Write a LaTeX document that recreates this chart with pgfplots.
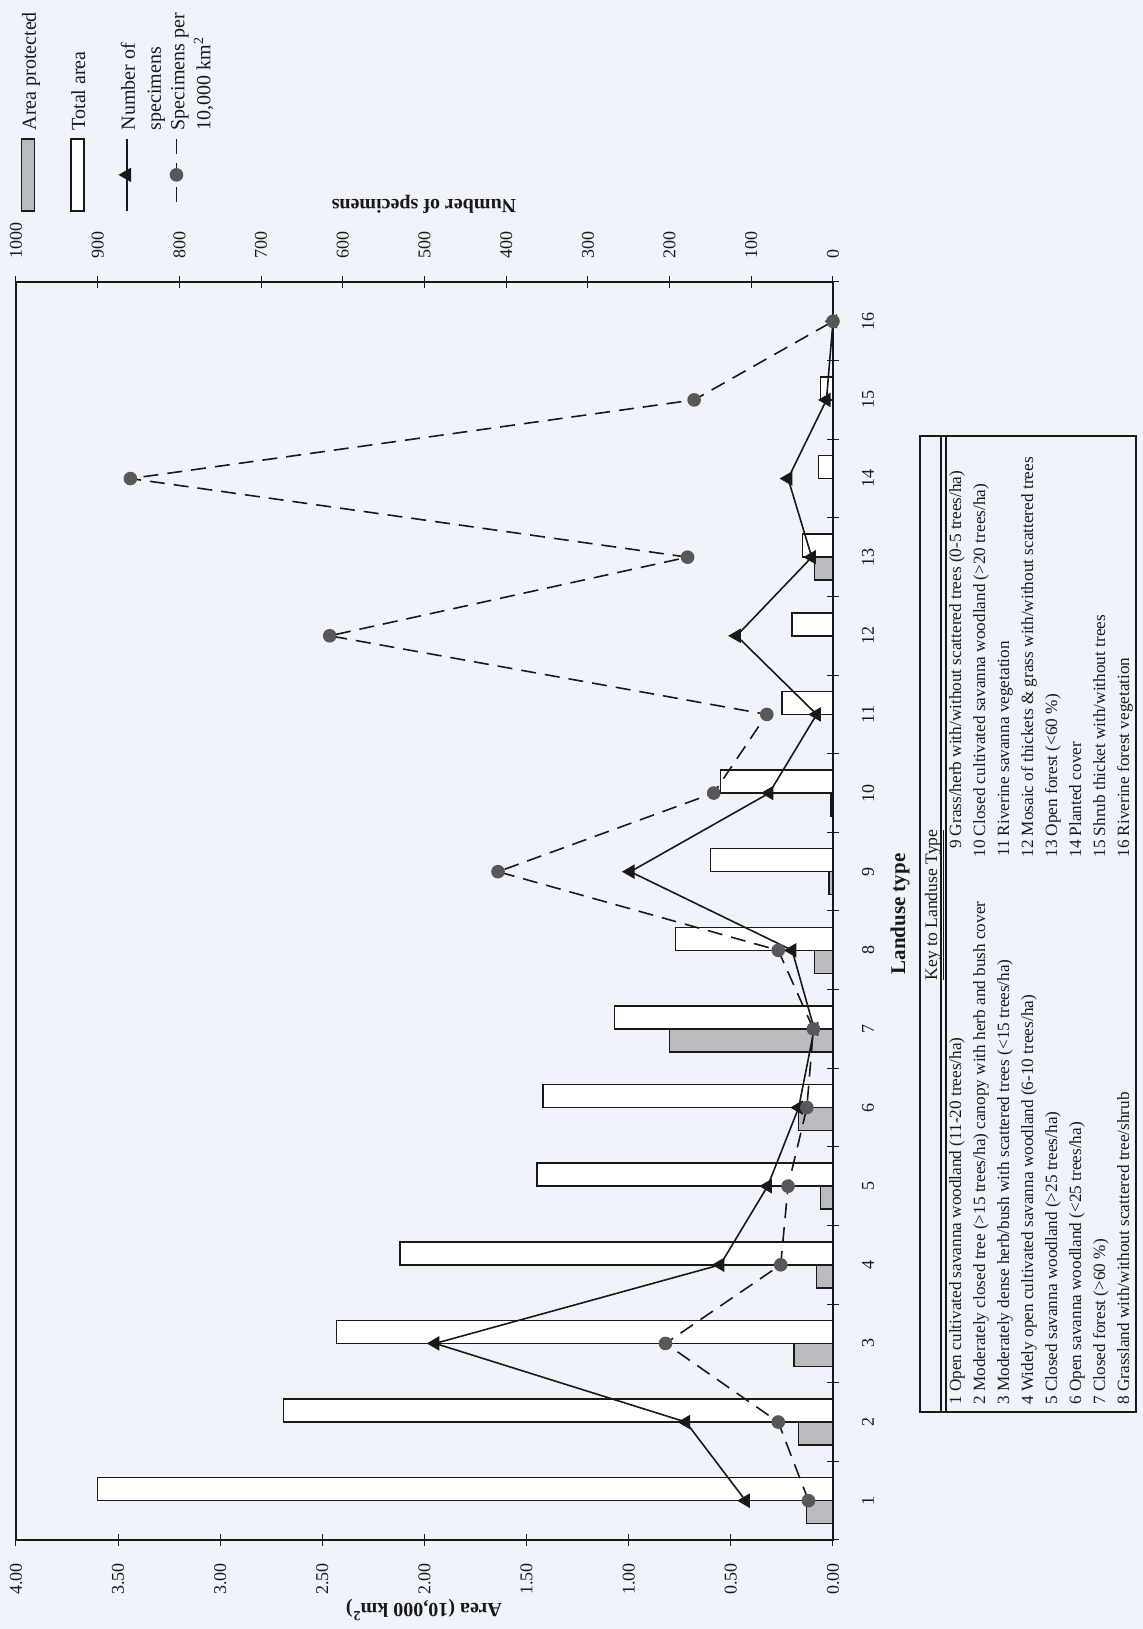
\documentclass[border=0pt]{standalone}
\usepackage{graphicx}
\usepackage{pgfplots}
\pgfplotsset{compat=1.18}
\usepackage{fontspec}
\setmainfont{Liberation Serif}
\definecolor{bg}{RGB}{240,244,250}
\definecolor{barfill}{RGB}{185,187,192}
\definecolor{dotgray}{RGB}{88,88,92}
\definecolor{ink}{RGB}{25,25,28}
\newcommand{\legtext}[1]{\rotatebox{90}{\raisebox{0pt}[7pt][2.4pt]{\parbox[t]{64pt}{\raggedright #1}}}}
\pgfplotsset{
  mybarlegend/.style={legend image code/.code={\path (0pt,0pt); \draw[overlay,##1] (0.2pt,-35.5pt) rectangle (6.7pt,-71.5pt);}},
  mylinelegend/.style={legend image code/.code={\path (0pt,0pt); \draw[overlay,mark repeat=2,mark phase=2,##1] plot coordinates {(3.45pt,-35.5pt) (3.45pt,-53.5pt) (3.45pt,-71.5pt)};}},
  common/.style={
    at={(8pt,44.5pt)}, anchor=south west,
    width=408.5pt, height=629pt, scale only axis,
    x dir=reverse, ymin=0.5, ymax=16.5,
    axis line style={line width=0.6pt, ink},
    tick align=center, major tick length=6pt, minor tick length=6pt,
    every tick/.style={ink, line width=0.5pt},
    /pgf/number format/assume math mode=true,
    tick label style={font=\fontsize{9}{10}\selectfont, text=ink},
  },
}
\begin{document}
\begin{tikzpicture}
\useasboundingbox (0,0) rectangle (571.5pt,814.5pt);
\fill[bg] (0,0) rectangle (571.5pt,814.5pt);
% ---------- area axis (bars) ----------
\begin{axis}[common,
  xmin=0, xmax=4,
  xtick={0,0.5,...,4}, xtick pos=left,
  xticklabel style={rotate=90, anchor=east, /pgf/number format/.cd, fixed, fixed zerofill, precision=2},
  xticklabel shift=5pt,
  ytick={1,...,16}, minor ytick={0.5,1.5,...,16.5},
  major y tick style={draw=none},
  ytick pos=right,
  yticklabel style={rotate=90, anchor=north},
  yticklabel shift=8pt,
]
\addplot[forget plot, xbar, bar width=11.5pt, bar shift=5.75pt, draw=ink, fill=white, line width=0.75pt]
  coordinates {(3.60,1) (2.69,2) (2.43,3) (2.12,4) (1.45,5) (1.42,6) (1.07,7) (0.77,8)
               (0.60,9) (0.55,10) (0.25,11) (0.20,12) (0.15,13) (0.07,14) (0.06,15)};
\addplot[forget plot, xbar, bar width=11.5pt, bar shift=-5.75pt, draw=ink, fill=barfill, line width=0.75pt]
  coordinates {(0.13,1) (0.17,2) (0.19,3) (0.08,4) (0.06,5) (0.17,6) (0.80,7) (0.09,8)
               (0.02,9) (0.01,10) (0.09,13)};
\end{axis}
% ---------- specimens axis (lines) ----------
\begin{axis}[common,
  xmin=0, xmax=1000,
  axis x line*=top, hide y axis,
  xtick={0,100,...,1000},
  xticklabel style={rotate=90, anchor=west, /pgf/number format/1000 sep={}},
  xticklabel shift=5pt,
  legend style={at={(axis description cs:0.0049,1.2226)}, anchor=north west,
    draw=none, fill=none, font=\fontsize{10}{13}\selectfont, text=ink,
    column sep=0pt, inner sep=0pt, nodes={inner sep=0pt},
    /tikz/every even column/.append style={column sep=14.6pt}},
  legend columns=-1, legend cell align=left,
]
\addplot[forget plot, ink, line width=0.8pt, mark=triangle*, mark size=3.4pt, mark options={rotate=90, fill=ink}]
  coordinates {(107,1) (180,2) (487,3) (138,4) (80,5) (42,6) (23,7) (50,8)
               (248,9) (78,10) (20,11) (118,12) (26,13) (55,14) (8,15) (0,16)};
\addplot[forget plot, ink, line width=0.8pt, dash pattern=on 7.5pt off 4.5pt, mark=*, mark size=3pt,
  mark options={solid, fill=dotgray, draw=dotgray}]
  coordinates {(30,1) (67,2) (205,3) (64,4) (55,5) (32,6) (24,7) (67,8)
               (410,9) (146,10) (81,11) (616,12) (178,13) (860,14) (170,15) (0,16)};
\addlegendimage{mybarlegend, draw=ink, fill=barfill, line width=0.7pt}
\addlegendentry{\legtext{Area protected}}
\addlegendimage{mybarlegend, draw=ink, fill=white, line width=0.7pt}
\addlegendentry{\legtext{Total area}}
\addlegendimage{mylinelegend, ink, line width=0.8pt, mark=triangle*, mark size=3.4pt, mark options={rotate=90, fill=ink}}
\addlegendentry{\legtext{Number of\newline specimens}}
\addlegendimage{mylinelegend, ink, line width=0.8pt, dash pattern=on 7.5pt off 4.5pt, mark=*, mark size=3pt, mark options={solid, fill=dotgray, draw=dotgray}}
\addlegendentry{\legtext{Specimens per\newline 10,000 km\textsuperscript{2}}}
\end{axis}
% ---------- titles and key (px coordinates) ----------
\begin{scope}[x=0.5pt, y=-0.5pt, shift={(0pt,814.5pt)}]
\node[rotate=180, font=\bfseries\fontsize{10}{12}\selectfont, text=ink] at (424,204) {Number of specimens};
\node[rotate=180, font=\bfseries\fontsize{10}{12}\selectfont, text=ink] at (424,1610) {Area (10,000 km\textsuperscript{2})};
\node[rotate=90, font=\bfseries\fontsize{10.5}{12}\selectfont, text=ink] at (900,914) {Landuse type};
\draw[ink, line width=0.7pt] (920,436) rectangle (1136,1412);
\draw[ink, line width=0.6pt] (941,436) -- (941,1412);
\draw[ink, line width=0.6pt] (946,436) -- (946,1412);
\node[rotate=90, anchor=base, inner sep=0pt, font=\fontsize{8.8}{10}\selectfont, text=ink] at (937,905) {\underline{Key to Landuse Type}};
\begin{scope}[every node/.style={rotate=90, anchor=base west, inner sep=0pt, font=\fontsize{8.6}{10}\selectfont, text=ink}]
\node at (961,1405) {1 Open cultivated savanna woodland (11-20 trees/ha)};
\node at (985,1405) {2 Moderately closed tree (>15 trees/ha) canopy with herb and bush cover};
\node at (1009,1405) {3 Moderately dense herb/bush with scattered trees (<15 trees/ha)};
\node at (1033,1405) {4 Widely open cultivated savanna woodland (6-10 trees/ha)};
\node at (1057,1405) {5 Closed savanna woodland (>25 trees/ha)};
\node at (1081,1405) {6 Open savanna woodland (<25 trees/ha)};
\node at (1105,1405) {7 Closed forest (>60 \%)};
\node at (1129,1405) {8 Grassland with/without scattered tree/shrub};
\node at (961,858) {\makebox[1em][r]{9} Grass/herb with/without scattered trees (0-5 trees/ha)};
\node at (985,858) {\makebox[1em][r]{10} Closed cultivated savanna woodland (>20 trees/ha)};
\node at (1009,858) {\makebox[1em][r]{11} Riverine savanna vegetation};
\node at (1033,858) {\makebox[1em][r]{12} Mosaic of thickets \& grass with/without scattered trees};
\node at (1057,858) {\makebox[1em][r]{13} Open forest (<60 \%)};
\node at (1081,858) {\makebox[1em][r]{14} Planted cover};
\node at (1105,858) {\makebox[1em][r]{15} Shrub thicket with/without trees};
\node at (1129,858) {\makebox[1em][r]{16} Riverine forest vegetation};
\end{scope}
\end{scope}
\end{tikzpicture}
\end{document}
